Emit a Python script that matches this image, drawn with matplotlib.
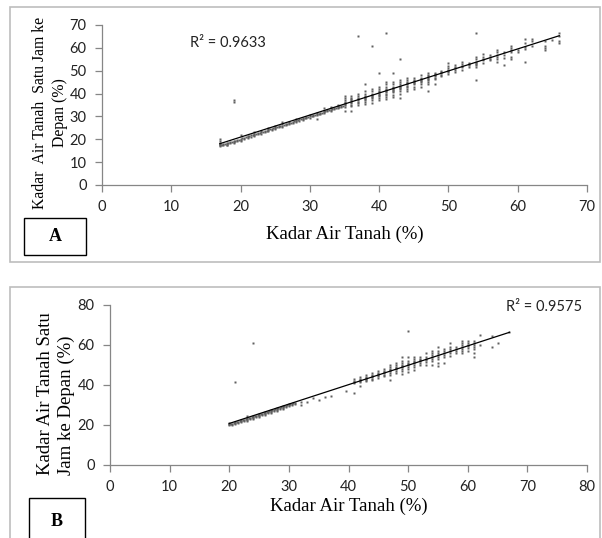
import numpy as np
import matplotlib
matplotlib.use("Agg")
import matplotlib.pyplot as plt
from matplotlib.patches import Rectangle

# panel A: measured soil water (x) vs one hour ahead (y), grouped by x column
cols_a = {
    17: [17, 17.3, 17.6, 18, 18.5, 19.3, 20],
    17.5: [17.3, 17.8],
    18: [17.3, 17.7, 18, 18.4],
    18.5: [18.2, 18.7],
    19: [18.4, 18.8, 19.2, 36.5, 37.3],
    19.5: [19.2, 19.7],
    20: [19.4, 19.8, 20.2, 21.8],
    20.5: [20.2, 20.7],
    21: [20.5, 21, 21.5],
    21.5: [21.2, 21.7],
    22: [21.5, 22, 22.5, 23],
    22.5: [22.2, 22.7],
    23: [22.5, 23, 23.5],
    23.5: [23.2, 23.7],
    24: [23.5, 24, 24.5, 25],
    24.5: [24.2, 24.7],
    25: [24.5, 25, 25.5, 26],
    25.5: [25.2, 25.7],
    26: [25.5, 26, 26.5, 27.5],
    26.5: [26.2, 26.7],
    27: [26.5, 27, 27.5],
    27.5: [27.2, 27.7],
    28: [27.5, 28, 28.5, 29],
    28.5: [28.2, 28.7],
    29: [28.5, 29, 29.5],
    29.5: [29.2, 29.7],
    30: [29.5, 30, 30.5],
    30.5: [30.2, 30.7],
    31: [29, 30.5, 31, 31.5],
    31.5: [31.2, 31.7],
    32: [31.5, 32, 32.5, 33.5],
    32.5: [32.2, 32.7],
    33: [32.5, 33, 33.5, 34],
    33.5: [33.2, 33.7],
    34: [33.5, 34, 34.5, 35],
    34.5: [34.2, 34.7],
    35: [32.3, 34, 35, 35.5, 36, 36.5, 37, 38, 39],
    36: [32.3, 34.5, 35, 36, 36.5, 37, 37.5, 38, 39],
    37: [35, 36, 36.5, 37, 37.5, 38, 39, 40, 65],
    38: [35.5, 36.5, 37, 37.5, 38, 38.5, 39, 40, 41, 44],
    39: [36, 37, 38, 38.5, 39, 39.5, 40, 41, 42, 61],
    40: [37, 38, 39, 39.5, 40, 40.5, 41, 42, 43, 49],
    41: [37.5, 38.5, 39.5, 40, 40.5, 41, 41.5, 42, 43, 44, 45, 66.3],
    42: [38.5, 39.5, 40.5, 41, 41.5, 42, 42.5, 43, 44, 45, 49],
    43: [38, 40, 41, 42, 42.5, 43, 43.5, 44, 45, 46, 55],
    44: [41, 42, 43, 43.5, 44, 44.5, 45, 46, 47],
    45: [42, 43, 44, 44.5, 45, 45.5, 46, 47],
    46: [43, 44, 45, 45.5, 46, 46.5, 47, 48],
    47: [41, 44, 45, 46, 46.5, 47, 47.5, 48, 49],
    48: [44, 46.5, 47, 47.5, 48, 48.5, 49],
    49: [47.5, 48, 49, 49.5, 50],
    50: [48.5, 49.5, 50, 50.5, 51, 52, 53.5],
    51: [49.5, 50.5, 51, 51.5, 52.5],
    52: [50.5, 51.5, 52, 53, 54],
    53: [51.5, 52.5, 53, 53.5],
    54: [46, 51.5, 52.5, 53, 53.5, 54, 55, 56, 66.5],
    55: [53.5, 54.5, 55, 56, 57.5],
    56: [54.5, 55, 56, 57],
    57: [54, 55, 56, 57, 58, 59],
    58: [52.4, 55.5, 57, 58],
    59: [55, 56, 58, 59, 60, 61],
    60: [58, 59],
    61: [54, 59.5, 60.5, 62, 64],
    62: [61, 63, 64],
    64: [59, 60, 61, 63],
    65: [63.5],
    66: [62, 63, 65, 66.3],
}
# dense band of readings at the low end of A (between the columns above)
band_a = {
    17.25: 17.4, 17.75: 17.9, 18.25: 18.4, 18.75: 18.9, 19.25: 19.4, 19.75: 19.9,
    20.25: 20.4, 20.75: 20.9, 21.25: 21.4, 21.75: 21.9, 22.25: 22.4, 22.75: 22.9,
    23.25: 23.4, 23.75: 23.8, 24.25: 24.3, 24.75: 24.8, 25.25: 25.3, 25.75: 25.8,
    26.25: 26.3, 26.75: 26.8, 27.25: 27.3, 27.75: 27.8, 28.25: 28.3, 28.75: 28.8,
    29.25: 29.3, 29.75: 29.8, 30.25: 30.3, 30.75: 30.7, 31.25: 31.2, 31.75: 31.7,
    32.25: 32.2, 32.75: 32.7, 33.25: 33.2, 33.75: 33.7, 34.25: 34.2, 34.75: 34.7,
}

# panel B
cols_b = {
    20: [20, 20.3, 20.7, 21],
    20.5: [20.1, 20.5],
    21: [20.5, 21, 21.5, 41.3],
    21.5: [21.0, 21.4],
    22: [21.3, 22, 22.5],
    22.5: [22.0, 22.4],
    23: [22, 22.5, 23, 23.5, 24.3],
    23.5: [23.0, 23.4],
    24: [23, 23.5, 24, 24.5, 61.2],
    24.5: [24.0, 24.4],
    25: [24, 24.5, 25, 25.5],
    25.5: [25.0, 25.4],
    26: [25, 25.5, 26, 26.5],
    26.5: [26.0, 26.4],
    27: [26, 26.5, 27, 27.5],
    27.5: [27.0, 27.4],
    28: [27, 27.5, 28, 28.5],
    28.5: [28.0, 28.4],
    29: [28, 28.5, 29, 29.5],
    29.5: [29.0, 29.4],
    30: [29.3, 29.8, 30.3],
    30.5: [30.0, 30.4],
    31: [30.5, 31],
    32: [30, 31.5],
    33: [31.7],
    34: [33.3],
    35: [32.5],
    36: [33.8],
    37: [34.5],
    39.5: [37.2],
    41: [35.8, 41, 41.5, 42, 43],
    42: [39.5, 41.5, 42, 42.5, 43, 44],
    43: [42, 42.5, 43, 43.5, 44, 45],
    44: [42.5, 43, 44, 44.5, 45, 46],
    45: [43.5, 44.5, 45, 45.5, 46, 47],
    46: [44.5, 45, 46, 46.5, 47, 48],
    47: [42.3, 45, 46, 47, 47.5, 48, 49, 50],
    48: [46, 47, 48, 48.5, 49, 50, 51],
    49: [45.5, 47, 48, 49, 49.5, 50, 51, 52, 54],
    50: [46.5, 48, 49, 50, 50.5, 51, 52, 54, 67],
    51: [47.5, 49, 50, 51, 51.5, 52, 53, 54],
    52: [50, 51, 52, 52.5, 53, 54],
    53: [50, 51.5, 52.5, 53, 54, 56],
    54: [50, 52, 53, 54, 55, 56, 57],
    55: [49.5, 51, 53, 54, 55, 56, 57, 59],
    56: [51.2, 54, 55, 56, 57, 58],
    57: [54.5, 56, 57, 58, 59, 61.2],
    58: [56, 57, 58, 59],
    59: [56, 57, 58, 59, 60, 61, 62],
    60: [57, 58.5, 59.5, 60, 61, 62],
    61: [54.2, 56, 58, 59, 60, 61, 62],
    62: [60, 65],
    64: [58.8, 64.5],
    65: [61.2],
    67: [66.5],
}
band_b = {
    20.25: 20.5, 20.75: 21.0, 21.25: 21.5, 21.75: 22.0, 22.25: 22.5, 22.75: 23.0,
    23.25: 23.5, 23.75: 24.0, 24.25: 24.5, 24.75: 25.0, 25.25: 25.5, 25.75: 26.0,
    26.25: 26.4, 26.75: 26.9, 27.25: 27.4, 27.75: 27.9, 28.25: 28.4, 28.75: 28.9,
    29.25: 29.4, 29.75: 29.9, 30.25: 30.4, 30.75: 30.9,
}

r2_a = "R² = 0.9633"
r2_b = "R² = 0.9575"
xlabel = "Kadar Air Tanah (%)"
ylabel_a = "Kadar  Air Tanah  Satu Jam ke\nDepan (%)"
ylabel_b = "Kadar Air Tanah Satu\nJam ke Depan (%)"


def flatten(cols, band):
    xs, ys = [], []
    for k, v in cols.items():
        xs += [k] * len(v)
        ys += v
    xs += list(band.keys())
    ys += list(band.values())
    return np.array(xs, float), np.array(ys, float)


W, H = 602, 538
fig = plt.figure(figsize=(W / 100, H / 100), dpi=100)


def frac(x0, y0, x1, y1):
    # pixel box (top-left origin) -> figure fraction rect
    return [x0 / W, 1 - y1 / H, (x1 - x0) / W, (y1 - y0) / H]


tick_font = "Lato"
serif = "Liberation Serif"
grey = "#868686"


def panel(rect, cols, band, xmax, ystep, ymax, r2, r2_pos, ylab, ylab_pos,
          ylab_size, ylab_ma, xlab_y):
    ax = fig.add_axes(rect)
    x, y = flatten(cols, band)
    ax.plot(x, y, "s", ms=1.9, color="#606060", mec="none", zorder=2)
    k, b = np.polyfit(x, y, 1)
    xl = np.array([x.min(), x.max()])
    ax.plot(xl, k * xl + b, color="black", lw=0.9, zorder=3)
    ax.set_xlim(0, xmax)
    ax.set_ylim(0, ymax)
    ax.set_xticks(np.arange(0, xmax + 1, 10))
    ax.set_yticks(np.arange(0, ymax + 1, ystep))
    for s in ["top", "right"]:
        ax.spines[s].set_visible(False)
    for s in ["left", "bottom"]:
        ax.spines[s].set_color(grey)
        ax.spines[s].set_linewidth(0.9)
    ax.tick_params(direction="out", length=5, width=0.9, color=grey,
                   labelsize=10.5, labelcolor="#222222", pad=6)
    for lab in ax.get_xticklabels() + ax.get_yticklabels():
        lab.set_fontfamily(tick_font)
    ax.text(r2_pos[0], r2_pos[1], r2, transform=ax.transAxes, fontsize=10.5,
            family=tick_font, va="center", ha="left", color="#222222")
    ax.set_xlabel(xlabel, family=serif, fontsize=13.5)
    ax.xaxis.set_label_coords(0.5, xlab_y)
    ax.xaxis.label.set_va("center")
    ax.set_ylabel(ylab, family=serif, fontsize=ylab_size, multialignment=ylab_ma,
                  linespacing=1.3)
    ax.yaxis.set_label_coords(ylab_pos[0], ylab_pos[1])
    ax.yaxis.label.set_va("center")
    return ax


panel(frac(102, 25, 587, 185), cols_a, band_a, 70, 10, 70, r2_a, (0.181, 0.8875),
      ylabel_a, (-0.107, 0.45), 11.3, "center", -0.306)
panel(frac(110, 305, 587, 465), cols_b, band_b, 80, 20, 80, r2_b, (0.830, 0.9875),
      ylabel_b, (-0.113, 0.447), 13.5, "left", -0.26)

# outer frames and panel letters
for (x0, y0, x1, y1) in [(10, 7, 600, 262), (10, 287, 600, 545)]:
    r = frac(x0, y0, x1, y1)
    fig.add_artist(Rectangle((r[0], r[1]), r[2], r[3], transform=fig.transFigure,
                             fill=False, ec="#bdbdbd", lw=1.2))
for (x0, y0, x1, y1), t in [((24, 218, 86, 255), "A"), ((29, 498, 85, 545), "B")]:
    r = frac(x0, y0, x1, y1)
    fig.add_artist(Rectangle((r[0], r[1]), r[2], r[3], transform=fig.transFigure,
                             fill=False, ec="black", lw=1.0))
    cy = 1 - ((y0 + min(y1, 538)) / 2 + (3 if t == "B" else 0)) / H
    fig.text((x0 + x1) / 2 / W, cy, t, family=serif, fontsize=13, weight="bold",
             ha="center", va="center")

fig.savefig("out.png", dpi=100)
